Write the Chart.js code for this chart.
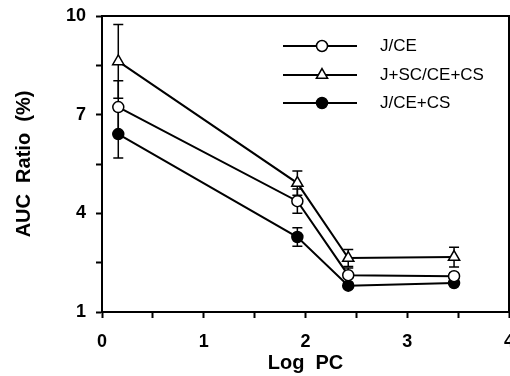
<!DOCTYPE html>
<html>
<head>
<meta charset="utf-8">
<script src="https://cdn.jsdelivr.net/npm/chart.js@4.4.0/dist/chart.umd.min.js"></script>
<style>
  html, body { margin: 0; padding: 0; background: #fff; }
  #wrap { width: 510px; height: 376px; }
</style>
</head>
<body>
<div id="wrap"><canvas id="chart" width="510" height="376"></canvas></div>
<script>
const logPC = [0.16, 1.92, 2.42, 3.46];

const seriesNames = ["J/CE", "J+SC/CE+CS", "J/CE+CS"];
const jce = [7.23, 4.37, 2.12, 2.09];
const jceErr = [0.8, 0.37, 0.22, 0.1];
const jscCs = [8.62, 4.92, 2.64, 2.67];
const jscCsErr = [1.12, 0.37, 0.26, 0.3];
const jceCs = [6.41, 3.28, 1.8, 1.88];
const jceCsErr = [0.73, 0.28, 0.06, 0.06];

const xTickLabels = [0, 1, 2, 3, 4];
const yTickLabels = [1, 4, 7, 10];

const FONT = "'Liberation Sans', Arial, Helvetica, sans-serif";

function toPoints(ys) {
  return ys.map((y, i) => ({ x: logPC[i], y }));
}

const errors = [jceErr, jscCsErr, jceCsErr];

// error bars go under the lines and markers
const errorBars = {
  id: "errorBars",
  beforeDatasetsDraw(chart) {
    const { ctx, scales: { x, y } } = chart;
    ctx.save();
    ctx.strokeStyle = "#000";
    ctx.lineWidth = 1.5;
    chart.data.datasets.forEach((ds, i) => {
      ds.data.forEach((p, j) => {
        const e = errors[i][j];
        const px = x.getPixelForValue(p.x);
        const top = y.getPixelForValue(p.y + e);
        const bot = y.getPixelForValue(p.y - e);
        ctx.beginPath();
        ctx.moveTo(px, top);
        ctx.lineTo(px, bot);
        ctx.moveTo(px - 5, top);
        ctx.lineTo(px + 5, top);
        ctx.moveTo(px - 5, bot);
        ctx.lineTo(px + 5, bot);
        ctx.stroke();
      });
    });
    ctx.restore();
  }
};

// frame on top/right plus the line-and-marker legend
const frameAndLegend = {
  id: "frameAndLegend",
  afterDraw(chart) {
    const { ctx, chartArea: a } = chart;
    ctx.save();
    ctx.strokeStyle = "#000";
    ctx.lineWidth = 2;
    ctx.beginPath();
    ctx.moveTo(a.left, a.top);
    ctx.lineTo(a.right, a.top);
    ctx.lineTo(a.right, a.bottom);
    ctx.stroke();

    const rows = [46, 75, 103];
    chart.data.datasets.forEach((ds, i) => {
      const yy = rows[i];
      ctx.strokeStyle = "#000";
      ctx.lineWidth = 2;
      ctx.beginPath();
      ctx.moveTo(283, yy);
      ctx.lineTo(357, yy);
      ctx.stroke();
      ctx.fillStyle = ds.pointBackgroundColor;
      ctx.strokeStyle = "#000";
      ctx.lineWidth = ds.pointBorderWidth;
      Chart.helpers.drawPoint(ctx, {
        pointStyle: ds.pointStyle,
        radius: ds.pointRadius,
        borderWidth: ds.pointBorderWidth,
        rotation: 0
      }, 322, yy);
      ctx.fillStyle = "#000";
      ctx.font = "17px " + FONT;
      ctx.textBaseline = "middle";
      ctx.textAlign = "left";
      ctx.fillText(ds.label, 380, yy);
    });
    ctx.restore();
  }
};

function makeSet(label, ys, style, fill, radius) {
  return {
    label,
    data: toPoints(ys),
    showLine: true,
    borderColor: "#000",
    borderWidth: 2,
    pointStyle: style,
    pointRadius: radius,
    pointHoverRadius: radius,
    pointBackgroundColor: fill,
    pointBorderColor: "#000",
    pointBorderWidth: 1.5
  };
}

new Chart(document.getElementById("chart"), {
  type: "scatter",
  data: {
    datasets: [
      makeSet(seriesNames[0], jce, "circle", "#fff", 5.5),
      makeSet(seriesNames[1], jscCs, "triangle", "#fff", 6.5),
      makeSet(seriesNames[2], jceCs, "circle", "#000", 5.5)
    ]
  },
  options: {
    responsive: false,
    animation: false,
    devicePixelRatio: 1,
    layout: { autoPadding: false, padding: { top: 16, right: 1, left: 0, bottom: 0 } },
    plugins: {
      legend: { display: false },
      tooltip: { enabled: false }
    },
    scales: {
      x: {
        type: "linear",
        min: 0,
        max: 4,
        ticks: {
          stepSize: 0.5,
          color: "#000",
          padding: 13,
          maxRotation: 0,
          font: { family: FONT, size: 18, weight: "bold" },
          callback: v => xTickLabels.includes(v) ? String(v) : ""
        },
        grid: { drawOnChartArea: false, tickLength: 6, tickWidth: 2, tickColor: "#000" },
        border: { display: true, color: "#000", width: 2 },
        title: {
          display: true,
          text: "Log  PC",
          color: "#000",
          padding: { top: 0, bottom: 1 },
          font: { family: FONT, size: 20, weight: "bold" }
        },
        afterFit(s) {
          s.height = 64;
          s.paddingLeft = 0;
          s.paddingRight = 0;
        }
      },
      y: {
        type: "linear",
        min: 1,
        max: 10,
        ticks: {
          stepSize: 1.5,
          color: "#000",
          padding: 10,
          font: { family: FONT, size: 18, weight: "bold" },
          callback: v => yTickLabels.includes(v) ? String(v) : ""
        },
        grid: { drawOnChartArea: false, tickLength: 6, tickWidth: 2, tickColor: "#000" },
        border: { display: true, color: "#000", width: 2 },
        title: {
          display: true,
          text: "AUC  Ratio  (%)",
          color: "#000",
          padding: { top: 12, bottom: 0 },
          font: { family: FONT, size: 20, weight: "bold" }
        },
        afterFit(s) {
          s.width = 102;
          s.paddingTop = 0;
          s.paddingBottom = 0;
        }
      }
    }
  },
  plugins: [errorBars, frameAndLegend]
});
</script>
</body>
</html>
